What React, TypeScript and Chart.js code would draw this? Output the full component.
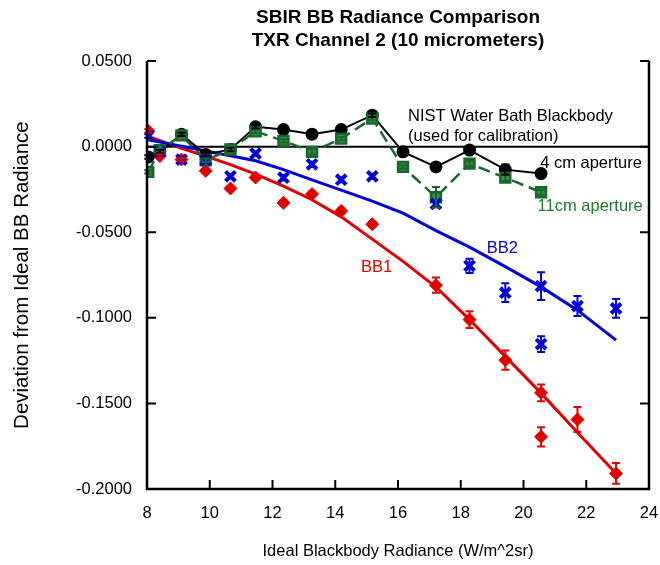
import React, { useEffect, useRef } from "react";
import { Chart, registerables } from "chart.js";

Chart.register(...registerables);

// ---- data ----
const bb1X = [8.04, 8.41, 9.1, 9.87, 10.66, 11.46, 12.35, 13.26, 14.19, 15.18, 17.21, 18.28, 19.42, 20.56, 20.56, 21.72, 22.95];
const bb1Y = [0.0092, -0.0055, -0.0075, -0.0141, -0.0244, -0.018, -0.0328, -0.0277, -0.0375, -0.0453, -0.0809, -0.101, -0.1247, -0.1438, -0.1695, -0.1594, -0.1909];
const bb1Err = [0.001, 0.001, 0.001, 0.0012, 0.0012, 0.0012, 0.0015, 0.0015, 0.0015, 0.0015, 0.0045, 0.0049, 0.0056, 0.0049, 0.0056, 0.0073, 0.0061];

const bb2X = [8.04, 8.41, 9.1, 9.87, 10.66, 11.46, 12.35, 13.26, 14.19, 15.18, 17.21, 18.28, 19.42, 20.56, 20.56, 21.72, 22.95];
const bb2Y = [0.0062, -0.003, -0.0075, -0.0079, -0.0173, -0.004, -0.0181, -0.0103, -0.0193, -0.0173, -0.0334, -0.0696, -0.0853, -0.0814, -0.1153, -0.0931, -0.0945];
const bb2Err = [0.001, 0.001, 0.001, 0.0012, 0.0012, 0.0012, 0.0015, 0.0015, 0.0015, 0.0015, 0.0015, 0.0042, 0.0055, 0.0081, 0.0046, 0.0058, 0.0055];

const fitX = [8.04, 9.1, 9.87, 10.66, 11.46, 12.35, 13.26, 14.19, 15.18, 16.16, 17.21, 18.28, 19.42, 20.56, 21.72, 22.95];
const bb1FitY = [0.006, -0.001, -0.0055, -0.0105, -0.016, -0.023, -0.031, -0.041, -0.054, -0.067, -0.082, -0.101, -0.1225, -0.144, -0.167, -0.191];
const bb2FitY = [0.0041, 0.0003, -0.0025, -0.0053, -0.0082, -0.0134, -0.0194, -0.0254, -0.0318, -0.0388, -0.049, -0.0587, -0.0701, -0.0819, -0.0955, -0.113];

const nistX = [8.04, 8.41, 9.1, 9.87, 10.66, 11.46, 12.35, 13.26, 14.19, 15.18, 16.16, 17.21, 18.28, 19.42, 20.56];
const nist4Y = [-0.006, -0.003, 0.0072, -0.0045, -0.0016, 0.0116, 0.01, 0.0073, 0.01, 0.0184, -0.003, -0.0118, -0.002, -0.0134, -0.0157];
const nist4Err = [0.001, 0.001, 0.001, 0.001, 0.001, 0.001, 0.001, 0.001, 0.001, 0.001, 0.001, 0.001, 0.001, 0.003, 0.001];
const nist11Y = [-0.0147, -0.002, 0.0066, -0.0079, -0.0016, 0.009, 0.0034, -0.003, 0.0047, 0.0165, -0.0118, -0.0295, -0.0099, -0.0181, -0.0266];
const nist11Err = [0.001, 0.001, 0.001, 0.001, 0.001, 0.001, 0.001, 0.0015, 0.001, 0.001, 0.001, 0.006, 0.0015, 0.002, 0.0015];

const zeroX = [8, 24];
const zeroY = [0, 0];

const titleLines = ["SBIR BB Radiance Comparison", "TXR Channel 2 (10 micrometers)"];
const xTitle = "Ideal Blackbody Radiance (W/m^2sr)";
const yTitle = "Deviation from Ideal BB Radiance";

const RED = "#e10000";
const BLUE = "#0000d8";
const GREEN = "#17682a";
const GREEN_TEXT = "#1f7a2c";
const BLACK = "#000000";

const notes = [
  { text: "NIST Water Bath Blackbody", x: 16.32, y: 0.0178, color: BLACK },
  { text: "(used for calibration)", x: 16.32, y: 0.0061, color: BLACK },
  { text: "4 cm aperture", x: 20.53, y: -0.0099, color: BLACK },
  { text: "11cm aperture", x: 20.45, y: -0.0348, color: GREEN_TEXT },
  { text: "BB2", x: 18.83, y: -0.0593, color: BLUE },
  { text: "BB1", x: 14.82, y: -0.0707, color: RED },
];

const FONT = "'Liberation Sans', Arial, Helvetica, sans-serif";

const pts = (xs: number[], ys: number[]) => xs.map((x, i) => ({ x, y: ys[i] }));

const decor = {
  id: "decor",
  afterDatasetsDraw(chart: any) {
    const { ctx, scales } = chart;
    const xs = scales.x;
    const ys = scales.y;
    ctx.save();
    chart.data.datasets.forEach((ds: any) => {
      if (!ds.errors) return;
      ctx.strokeStyle = ds.errColor || ds.borderColor;
      ctx.lineWidth = 2;
      ds.data.forEach((p: any, j: number) => {
        const e = ds.errors[j];
        const px = xs.getPixelForValue(p.x);
        const y1 = ys.getPixelForValue(p.y + e);
        const y2 = ys.getPixelForValue(p.y - e);
        ctx.beginPath();
        ctx.moveTo(px, y1);
        ctx.lineTo(px, y2);
        ctx.moveTo(px - 4, y1);
        ctx.lineTo(px + 4, y1);
        ctx.moveTo(px - 4, y2);
        ctx.lineTo(px + 4, y2);
        ctx.stroke();
      });
    });
    ctx.restore();
  },
  afterDraw(chart: any) {
    const { ctx, chartArea, scales } = chart;
    const { left, right, top, bottom } = chartArea;
    const xs = scales.x;
    const ys = scales.y;
    ctx.save();
    ctx.strokeStyle = "#000";
    ctx.lineWidth = 2.5;
    ctx.beginPath();
    ctx.moveTo(left, top);
    ctx.lineTo(left, bottom);
    ctx.lineTo(right, bottom);
    ctx.lineTo(right, top);
    ctx.stroke();
    ctx.lineWidth = 2;
    ctx.beginPath();
    ys.ticks.forEach((_t: any, i: number) => {
      const py = ys.getPixelForTick(i);
      ctx.moveTo(left, py);
      ctx.lineTo(left + 9, py);
      ctx.moveTo(right, py);
      ctx.lineTo(right - 9, py);
    });
    xs.ticks.forEach((_t: any, i: number) => {
      const px = xs.getPixelForTick(i);
      ctx.moveTo(px, bottom);
      ctx.lineTo(px, bottom - 9);
    });
    ctx.stroke();

    ctx.font = `16.5px ${FONT}`;
    ctx.textBaseline = "middle";
    ctx.textAlign = "left";
    notes.forEach((n) => {
      ctx.fillStyle = n.color;
      ctx.fillText(n.text, xs.getPixelForValue(n.x), ys.getPixelForValue(n.y));
    });
    ctx.restore();
  },
};

export default function App() {
  const ref = useRef<HTMLCanvasElement | null>(null);
  useEffect(() => {
    document.body.style.margin = "0";
    const canvas = ref.current;
    if (!canvas) return;
    const chart = new Chart(canvas, {
      type: "line",
      data: {
        datasets: [
          {
            label: "BB2",
            data: pts(bb2X, bb2Y),
            showLine: false,
            borderColor: BLUE,
            backgroundColor: BLUE,
            pointStyle: "crossRot",
            pointRadius: 7,
            pointBorderWidth: 4,
            errors: bb2Err,
          } as any,
          {
            label: "11cm aperture",
            data: pts(nistX, nist11Y),
            borderColor: GREEN,
            backgroundColor: "#3f8a48",
            borderWidth: 2.5,
            borderDash: [12, 6],
            pointStyle: "rect",
            pointRadius: 7,
            pointBorderWidth: 2.5,
            pointBorderColor: GREEN,
            errors: nist11Err,
          } as any,
          {
            label: "4 cm aperture",
            data: pts(nistX, nist4Y),
            borderColor: BLACK,
            backgroundColor: BLACK,
            borderWidth: 2,
            pointStyle: "circle",
            pointRadius: 5.5,
            errors: nist4Err,
          } as any,
          {
            label: "BB1",
            data: pts(bb1X, bb1Y),
            showLine: false,
            borderColor: RED,
            backgroundColor: RED,
            pointStyle: "rectRot",
            pointRadius: 6.5,
            pointBorderWidth: 1,
            errors: bb1Err,
          } as any,
          {
            label: "BB2 fit",
            data: pts(fitX, bb2FitY),
            borderColor: BLUE,
            borderWidth: 3,
            pointRadius: 0,
          },
          {
            label: "BB1 fit",
            data: pts(fitX, bb1FitY),
            borderColor: RED,
            borderWidth: 3,
            pointRadius: 0,
          },
          {
            label: "zero",
            data: pts(zeroX, zeroY),
            borderColor: BLACK,
            borderWidth: 2,
            pointRadius: 0,
          },
        ],
      },
      options: {
        animation: false,
        responsive: false,
        layout: { padding: { left: 0, right: 9, top: 0, bottom: 0 } },
        plugins: {
          legend: { display: false },
          tooltip: { enabled: false },
          title: {
            display: true,
            fullSize: false,
            text: titleLines,
            color: "#000",
            font: { family: FONT, size: 19, weight: "bold", lineHeight: 1.24 },
            padding: { top: 5.75, bottom: 8.25 },
          },
        },
        scales: {
          x: {
            type: "linear",
            min: 8,
            max: 24,
            ticks: {
              stepSize: 2,
              color: "#000",
              font: { family: FONT, size: 16.5 },
              padding: 15,
              maxRotation: 0,
              autoSkip: false,
            },
            grid: { display: false, drawTicks: false },
            border: { display: false },
            title: {
              display: true,
              text: xTitle,
              color: "#000",
              font: { family: FONT, size: 16.5 },
              padding: { top: 0, bottom: 4 },
            },
            afterFit: (s: any) => {
              s.height = 76;
              s.paddingRight = 0;
              s.paddingLeft = 0;
            },
          },
          y: {
            type: "linear",
            min: -0.2,
            max: 0.05,
            ticks: {
              stepSize: 0.05,
              color: "#000",
              font: { family: FONT, size: 16.5 },
              padding: 15,
              callback: (v: any) => (Math.abs(Number(v)) < 1e-9 ? "0.0000" : Number(v).toFixed(4)),
            },
            grid: { display: false, drawTicks: false },
            border: { display: false },
            title: {
              display: true,
              text: yTitle,
              color: "#000",
              font: { family: FONT, size: 20.5 },
              padding: { top: 9.7, bottom: 0 },
            },
            afterFit: (s: any) => {
              s.width = 147;
            },
          },
        },
      } as any,
      plugins: [decor],
    });
    return () => chart.destroy();
  }, []);
  return <canvas ref={ref} width={660} height={565} style={{ display: "block" }} />;
}
